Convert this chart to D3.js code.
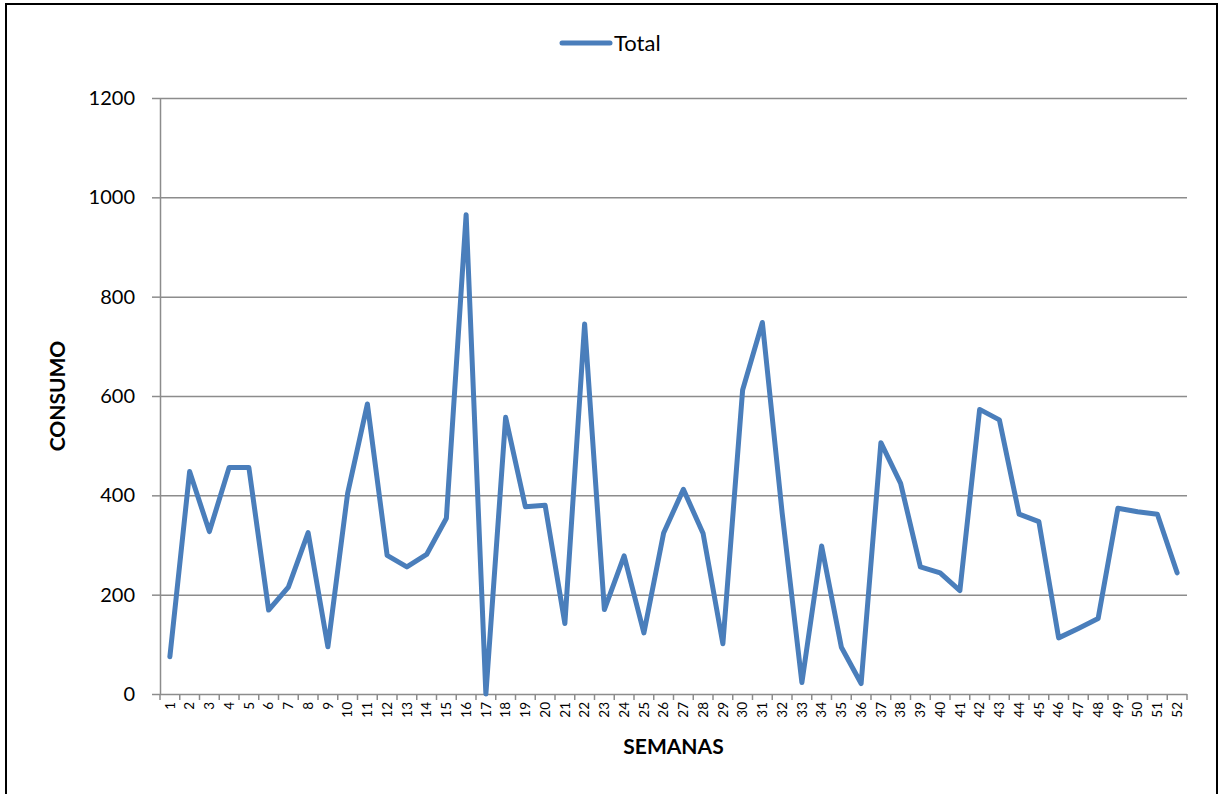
<!DOCTYPE html>
<html>
<head>
<meta charset="utf-8">
<script src="https://cdn.jsdelivr.net/npm/d3@7/dist/d3.min.js"></script>
<style>
  html, body { margin: 0; padding: 0; background: #fff; }
  svg { display: block; }
  text { font-family: Lato, "Open Sans", sans-serif; fill: #000; }
</style>
</head>
<body>
<svg id="chart" width="1222" height="794"></svg>
<script>
// Weekly consumption
const weeks = d3.range(1, 53);
const total = [75, 448, 327, 456, 456, 169, 215, 325, 95, 404, 584, 279, 256, 281, 354, 965,
               0, 557, 377, 380, 142, 745, 170, 278, 123, 324, 412, 323, 101, 612, 748, 365,
               23, 298, 94, 21, 506, 424, 256, 244, 208, 573, 552, 362, 347, 113, 132, 152,
               374, 367, 362, 244];
const yTicks = [0, 200, 400, 600, 800, 1000, 1200];
const seriesName = "Total";
const xTitle = "SEMANAS";
const yTitle = "CONSUMO";

const svg = d3.select("#chart");
const lineColor = "#4a7ebb";
const gridColor = "#8c8c8c";

const plotLeft = 160, plotRight = 1187, plotTop = 98, plotBottom = 694;

const x = d3.scaleBand().domain(weeks).range([plotLeft, plotRight]).paddingInner(0).paddingOuter(0);
const y = d3.scaleLinear().domain([0, 1200]).range([plotBottom, plotTop]);

// outer frame
svg.append("rect")
  .attr("x", 6).attr("y", 4).attr("width", 1211).attr("height", 800)
  .attr("fill", "none").attr("stroke", "#000").attr("stroke-width", 2);

// horizontal gridlines + y axis ticks
const yAxis = d3.axisLeft(y).tickValues(yTicks).tickFormat(d3.format("d"))
  .tickSizeInner(8).tickSizeOuter(0).tickPadding(17);
const gy = svg.append("g").attr("transform", `translate(${plotLeft},0)`).call(yAxis);
gy.select(".domain").attr("stroke", gridColor).attr("stroke-width", 1.5);
gy.selectAll(".tick line").attr("stroke", gridColor).attr("stroke-width", 1.5);
gy.selectAll(".tick text").attr("font-size", 20).attr("font-family", "Lato, sans-serif");
gy.selectAll(".tick").append("line")
  .attr("x1", 0).attr("x2", plotRight - plotLeft)
  .attr("stroke", gridColor).attr("stroke-width", 1.5);

// x axis: tick marks on category boundaries, labels at category centres
const gx = svg.append("g").attr("transform", `translate(0,${plotBottom})`);
const boundaries = weeks.map(w => x(w)).concat([x(weeks[weeks.length - 1]) + x.bandwidth()]);
gx.selectAll("line.tk").data(boundaries).join("line")
  .attr("class", "tk")
  .attr("x1", d => d).attr("x2", d => d)
  .attr("y1", 0).attr("y2", 6)
  .attr("stroke", gridColor).attr("stroke-width", 1.5);
const xAxis = d3.axisBottom(x).tickSize(0).tickPadding(0);
const gxl = svg.append("g").attr("transform", `translate(0,${plotBottom})`).call(xAxis);
gxl.select(".domain").remove();
gxl.selectAll(".tick text")
  .attr("font-size", 13.5)
  .attr("font-family", "Lato, sans-serif")
  .attr("text-anchor", "end")
  .attr("dy", "0.35em")
  .attr("transform", "translate(0,8) rotate(-90)")
  .attr("x", 0).attr("y", 0);

// data line
const line = d3.line()
  .x((d, i) => x(weeks[i]) + x.bandwidth() / 2)
  .y(d => y(d));
svg.append("path")
  .datum(total)
  .attr("d", line)
  .attr("fill", "none")
  .attr("stroke", lineColor)
  .attr("stroke-width", 5)
  .attr("stroke-linejoin", "round")
  .attr("stroke-linecap", "round");

// axis titles
svg.append("text")
  .attr("x", (plotLeft + plotRight) / 2).attr("y", 754)
  .attr("text-anchor", "middle")
  .attr("font-size", 21).attr("font-weight", "bold")
  .text(xTitle);
svg.append("text")
  .attr("transform", `translate(65,${(plotTop + plotBottom) / 2}) rotate(-90)`)
  .attr("text-anchor", "middle")
  .attr("font-size", 21).attr("font-weight", "bold")
  .text(yTitle);

// legend
const lg = svg.append("g");
lg.append("line")
  .attr("x1", 562).attr("x2", 610).attr("y1", 43).attr("y2", 43)
  .attr("stroke", lineColor).attr("stroke-width", 5).attr("stroke-linecap", "round");
lg.append("text")
  .attr("x", 614).attr("y", 43).attr("dy", "0.35em")
  .attr("font-size", 22)
  .text(seriesName);
</script>
</body>
</html>
